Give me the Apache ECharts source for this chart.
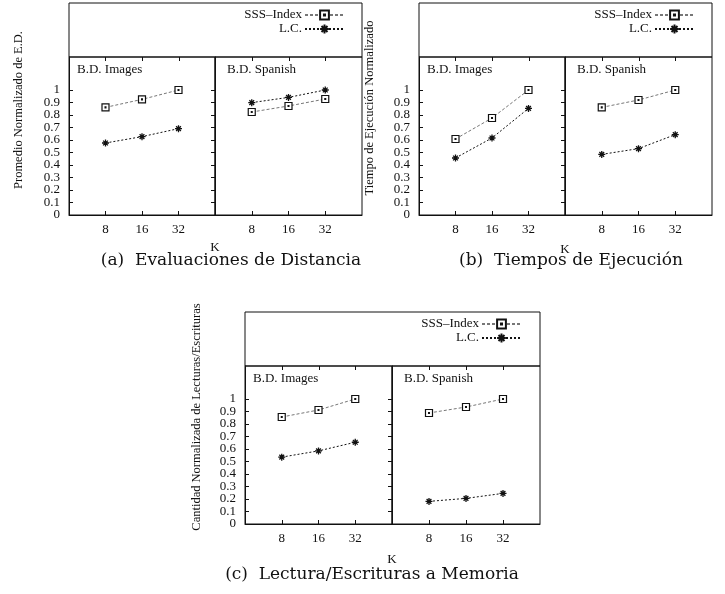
<!DOCTYPE html>
<html>
<head>
<meta charset="utf-8">
<script src="https://cdn.jsdelivr.net/npm/echarts@6/dist/echarts.min.js"></script>
<style>html,body{margin:0;padding:0;background:#fff}#c{width:725px;height:594px}</style>
</head>
<body>
<div id="c"></div>
<script>
// ---- data ----
const kLabels = ['8', '16', '32'];
const yTicks = [0, 0.1, 0.2, 0.3, 0.4, 0.5, 0.6, 0.7, 0.8, 0.9, 1];
const seriesNames = ['SSS–Index', 'L.C.'];
const subsetNames = ['B.D. Images', 'B.D. Spanish'];
const xName = 'K';

const aImagesSSS = [0.861, 0.925, 1.0];
const aImagesLC = [0.576, 0.627, 0.691];
const aSpanishSSS = [0.824, 0.872, 0.928];
const aSpanishLC = [0.899, 0.941, 1.0];

const bImagesSSS = [0.608, 0.776, 1.0];
const bImagesLC = [0.456, 0.616, 0.853];
const bSpanishSSS = [0.861, 0.92, 1.0];
const bSpanishLC = [0.485, 0.531, 0.643];

const cImagesSSS = [0.856, 0.912, 1.0];
const cImagesLC = [0.535, 0.585, 0.654];
const cSpanishSSS = [0.888, 0.936, 1.0];
const cSpanishLC = [0.181, 0.205, 0.245];

const yNames = ['Promedio Normalizado de E.D.', 'Tiempo de Ejecución Normalizado', 'Cantidad Normalizada de Lecturas/Escrituras'];
const captions = ['(a)  Evaluaciones de Distancia', '(b)  Tiempos de Ejecución', '(c)  Lectura/Escrituras a Memoria'];

const panelData = [
  [[aImagesSSS, aImagesLC], [aSpanishSSS, aSpanishLC]],
  [[bImagesSSS, bImagesLC], [bSpanishSSS, bSpanishLC]],
  [[cImagesSSS, cImagesLC], [cSpanishSSS, cSpanishLC]]
];

// ---- layout ----
const Y_MAX = 1.264;
const panels = [
  {left: 69, mid: 215, right: 362, top: 3, div: 57, bottom: 215, yNameX: 19, yNameY: 110, capX: 231, capY: 261, kY: 248, legRight: 380, legTop: 8},
  {left: 419, mid: 565, right: 712, top: 3, div: 57, bottom: 215, yNameX: 370, yNameY: 108, capX: 571, capY: 261, kY: 250, legRight: 30, legTop: 8},
  {left: 245, mid: 392, right: 540, top: 312, div: 366, bottom: 524, yNameX: 197, yNameY: 417, capX: 372, capY: 575, kY: 560, legRight: 203, legTop: 317}
];

const SERIF = 'Liberation Serif';
const ink = '#111';
const grids = [], xAxes = [], yAxes = [], series = [], legends = [], graphics = [];

const sssStyle = {
  symbol: 'path://M0,0H10V10H0Z M4.4,4.4H5.6V5.6H4.4Z', symbolSize: 7,
  lineStyle: {color: '#777', width: 1, type: [3, 2]},
  itemStyle: {color: '#fff', borderColor: ink, borderWidth: 1.2}
};
const lcStyle = {
  symbol: 'path://M0,5L10,5M5,0L5,10M1.6,1.6L8.4,8.4M8.4,1.6L1.6,8.4', symbolSize: 7,
  lineStyle: {color: ink, width: 1, type: [2, 2]},
  itemStyle: {color: ink, borderColor: ink, borderWidth: 1.3}
};
const styles = [sssStyle, lcStyle];
const fmtY = v => String(+(+v).toFixed(1));
// label sets split so neighbouring labels never collide inside one axis
const yLabelSets = [yTicks.filter((_, i) => i % 2 === 0), yTicks.filter((_, i) => i % 2 === 1)];

panels.forEach((p, pi) => {
  const g0 = grids.length;
  // legend region
  grids.push({left: p.left, top: p.top, width: p.right - p.left, height: p.div - p.top, show: true, borderColor: ink, borderWidth: 1, containLabel: false});
  xAxes.push({gridIndex: g0, type: 'value', min: 0, max: 8, position: 'top',
    axisLine: {show: false}, splitLine: {show: false}, axisLabel: {show: false},
    axisTick: {show: true, inside: true, length: 4, customValues: [1, 2, 3, 4, 5, 6, 7], lineStyle: {color: ink}}});
  yAxes.push({gridIndex: g0, type: 'value', min: 0, max: 1, show: false});
  // two plot halves
  [[p.left, p.mid], [p.mid, p.right]].forEach((lr, hi) => {
    const gi = grids.length;
    grids.push({left: lr[0], top: p.div, width: lr[1] - lr[0], height: p.bottom - p.div, show: true, borderColor: ink, borderWidth: 1, containLabel: false});
    const xi = xAxes.length;
    xAxes.push({gridIndex: gi, type: 'value', min: 0, max: 4, position: 'bottom',
      axisLine: {show: true, lineStyle: {color: ink}}, splitLine: {show: false},
      axisTick: {show: true, inside: true, length: 4, customValues: [1, 2, 3], lineStyle: {color: ink}},
      axisLabel: {show: true, customValues: [1, 2, 3], formatter: v => kLabels[Math.round(v) - 1], margin: 8,
        fontFamily: SERIF, fontSize: 13, color: ink}});
    const yi = yAxes.length;
    yAxes.push({gridIndex: gi, type: 'value', min: 0, max: Y_MAX, position: hi === 0 ? 'left' : 'right',
      axisLine: {show: true, lineStyle: {color: ink}}, splitLine: {show: false},
      axisTick: {show: true, inside: true, length: 4, customValues: yTicks, lineStyle: {color: ink}},
      axisLabel: {show: false}});
    if (hi === 0) {
      yLabelSets.forEach(vals => {
        yAxes.push({gridIndex: gi, type: 'value', min: 0, max: Y_MAX, position: 'left', offset: 0,
          axisLine: {show: false}, axisTick: {show: false}, splitLine: {show: false},
          axisLabel: {show: true, customValues: vals, showMinLabel: true, showMaxLabel: true, hideOverlap: false,
            formatter: fmtY, margin: 9, fontFamily: SERIF, fontSize: 13, color: ink}});
      });
    }
    panelData[pi][hi].forEach((vals, si) => {
      series.push(Object.assign({
        type: 'line', name: seriesNames[si], xAxisIndex: xi, yAxisIndex: yi,
        data: vals.map((v, i) => [i + 1, v]), silent: true, animation: false, z: 3 + si
      }, styles[si]));
    });
    graphics.push({type: 'text', x: lr[0] + (hi === 0 ? 8 : 12), y: p.div + 13,
      style: {text: subsetNames[hi], fill: ink, font: '13px "' + SERIF + '"', align: 'left', verticalAlign: 'middle'}});
  });
  legends.push({data: seriesNames, orient: 'vertical', align: 'right', right: p.legRight, top: p.legTop,
    padding: 0, itemGap: 0, itemWidth: 39, itemHeight: 11, selectedMode: false,
    textStyle: {fontFamily: SERIF, fontSize: 13, color: ink, lineHeight: 14, padding: [0, -2, 0, 0]}});
  graphics.push({type: 'text', x: p.yNameX, y: p.yNameY, rotation: Math.PI / 2,
    style: {text: yNames[pi], fill: ink, font: '12.5px "' + SERIF + '"', align: 'center', verticalAlign: 'middle'}});
  graphics.push({type: 'text', x: p.mid, y: p.kY,
    style: {text: xName, fill: ink, font: '13px "' + SERIF + '"', align: 'center', verticalAlign: 'middle'}});
  graphics.push({type: 'text', x: p.capX, y: p.capY,
    style: {text: captions[pi], fill: ink, font: '17px "DejaVu Serif"', align: 'center', verticalAlign: 'middle'}});
});

const chart = echarts.init(document.getElementById('c'), null, {renderer: 'canvas'});
chart.setOption({
  animation: false,
  backgroundColor: '#fff',
  grid: grids, xAxis: xAxes, yAxis: yAxes, series: series, legend: legends, graphic: graphics
});
</script>
</body>
</html>
